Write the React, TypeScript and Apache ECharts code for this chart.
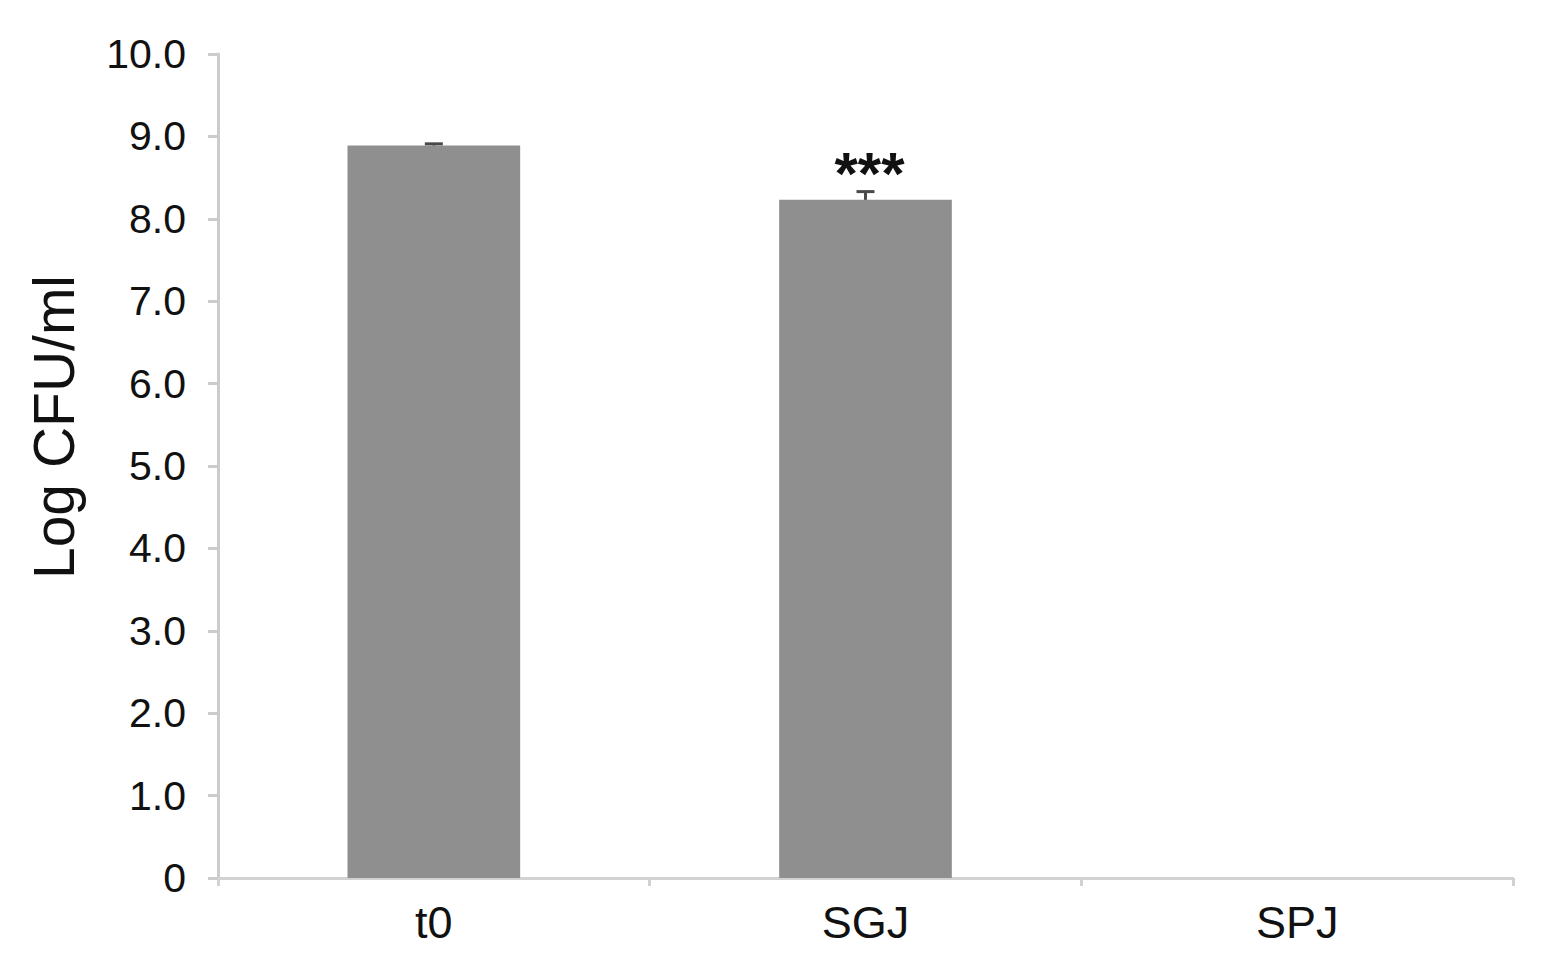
import React, { useEffect, useRef } from "react";
import * as echarts from "echarts";

const categories = ["t0", "SGJ", "SPJ"];
const means = [8.89, 8.23, 0];
const errors = [0.02, 0.1, 0];
const significance = ["", "***", ""];
const yTicks = { min: 0, max: 10, interval: 1 };
const yAxisTitle = "Log CFU/ml";

const FONT = "'Liberation Sans', Arial, sans-serif";

export default function App() {
  const ref = useRef<HTMLDivElement>(null);
  useEffect(() => {
    if (!ref.current) return;
    const chart = echarts.init(ref.current, null, { renderer: "svg" });
    const errData = categories.map((c, i) => [i, means[i], errors[i], significance[i]]);
    chart.setOption({
      animation: false,
      backgroundColor: "#ffffff",
      grid: { left: 210, right: 21, top: 46, bottom: 82, containLabel: false },
      xAxis: {
        type: "category",
        data: categories,
        boundaryGap: true,
        axisLine: { show: true, lineStyle: { color: "#d2d2d2", width: 3 } },
        axisTick: { show: true, length: 8, lineStyle: { color: "#d2d2d2", width: 3 } },
        axisLabel: { color: "#111", fontSize: 45, fontFamily: FONT, margin: 22 },
        splitLine: { show: false },
      },
      yAxis: {
        type: "value",
        min: yTicks.min,
        max: yTicks.max,
        interval: yTicks.interval,
        axisLine: { show: true, lineStyle: { color: "#cccccc", width: 3 } },
        axisTick: { show: true, length: 10, lineStyle: { color: "#cccccc", width: 3 } },
        axisLabel: {
          color: "#111",
          fontSize: 41,
          fontFamily: FONT,
          margin: 32,
          formatter: (v: number) => (v === 0 ? "0" : v.toFixed(1)),
        },
        splitLine: { show: false },
      },
      series: [
        {
          type: "bar",
          data: means,
          barWidth: "40%",
          itemStyle: { color: "#8f8f8f" },
          z: 2,
        },
        {
          type: "custom",
          data: errData,
          z: 3,
          renderItem: (params: any, api: any) => {
            const i = api.value(0);
            const m = api.value(1);
            const e = api.value(2);
            const star = significance[params.dataIndex];
            const children: any[] = [];
            if (m > 0) {
              const base = api.coord([i, m]);
              const top = api.coord([i, m + e]);
              const half = 9;
              children.push({
                type: "line",
                shape: { x1: top[0], y1: top[1], x2: base[0], y2: base[1] },
                style: { stroke: "#4a4a4a", lineWidth: 3 },
              });
              children.push({
                type: "line",
                shape: { x1: top[0] - half, y1: top[1], x2: top[0] + half, y2: top[1] },
                style: { stroke: "#4a4a4a", lineWidth: 3 },
              });
              if (star) {
                children.push({
                  type: "text",
                  x: top[0] + 4,
                  y: top[1] - 18,
                  style: {
                    text: star,
                    fontSize: 60,
                    fontWeight: "bold",
                    fontFamily: FONT,
                    fill: "#111",
                    align: "center",
                    verticalAlign: "middle",
                  },
                });
              }
            }
            return { type: "group", children };
          },
        },
      ],
      graphic: [
        {
          type: "text",
          x: 46,
          y: 419,
          rotation: Math.PI / 2,
          style: {
            text: yAxisTitle,
            fontSize: 57,
            fontFamily: FONT,
            fill: "#111",
            align: "center",
            verticalAlign: "middle",
          },
        },
      ],
    });
    return () => chart.dispose();
  }, []);
  return <div ref={ref} style={{ width: 1526, height: 952 }} />;
}
